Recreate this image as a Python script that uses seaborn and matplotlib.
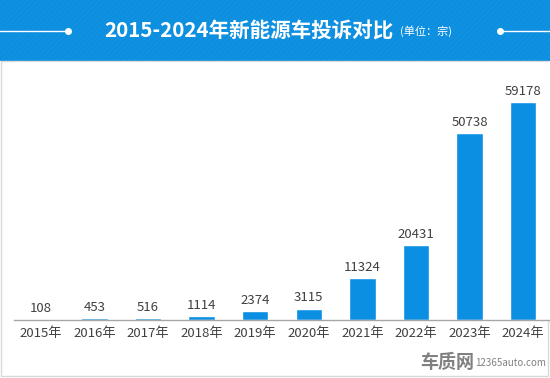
import matplotlib
matplotlib.use('Agg')
import matplotlib.pyplot as plt
import seaborn as sns
import pandas as pd
from matplotlib.patches import Rectangle
from matplotlib.lines import Line2D

# Data
years = ['2015年', '2016年', '2017年', '2018年', '2019年',
         '2020年', '2021年', '2022年', '2023年', '2024年']
complaints = [108, 453, 516, 1114, 2374, 3115, 11324, 20431, 50738, 59178]

title = '2015-2024年新能源车投诉对比'
unit = '(单位：宗)'

sns.set_style('white')
plt.rcParams['font.family'] = ['Noto Sans CJK SC', 'DejaVu Sans']
plt.rcParams['hatch.linewidth'] = 0.4

df = pd.DataFrame({'year': years, 'count': complaints})

W, H = 550, 378
fig = plt.figure(figsize=(W / 100, H / 100), dpi=100)

# Blue title band
band_h = 61 / H
fig.add_artist(Rectangle((0, 1 - band_h), 1, band_h, transform=fig.transFigure,
                         facecolor='#0d8fe0', edgecolor='#1a95e3', hatch='//////',
                         linewidth=0, zorder=0))

# Light frame around the plot area
fig.add_artist(Rectangle((1 / W, 2 / H), 547 / W, 1 - band_h - 2 / H,
                         transform=fig.transFigure, facecolor='none',
                         edgecolor='#d9d9d9', linewidth=1, zorder=0))

ty = 1 - 31 / H
fig.text(104 / W, ty, title, color='white', fontsize=14.8, fontweight='bold',
         ha='left', va='center')
fig.text(400 / W, ty, unit, color='white', fontsize=8, ha='left', va='center')

# Decorative lines either side of the title
for x0, x1, xd in [(0, 68 / W, 68 / W), (500 / W, 1, 500 / W)]:
    fig.add_artist(Line2D([x0, x1], [ty, ty], transform=fig.transFigure,
                          color='white', linewidth=1))
    fig.add_artist(Line2D([xd], [ty], transform=fig.transFigure, marker='o',
                          markersize=4, color='white', linewidth=0))

ax = fig.add_axes([14 / W, 58 / H, 536 / W, 258 / H])
sns.barplot(data=df, x='year', y='count', color='#0b8fe3', width=0.49,
            saturation=1, ax=ax)
ax.set_xlim(-0.5, 9.5)
ax.set_ylim(0, 70000)

for s in ['top', 'right', 'left']:
    ax.spines[s].set_visible(False)
ax.spines['bottom'].set_color('#a6a6a6')
ax.spines['bottom'].set_linewidth(1)
ax.set_yticks([])
ax.set_xlabel('')
ax.set_ylabel('')
ax.tick_params(axis='x', length=0, labelsize=9.5, labelcolor='#404040', pad=5)

ax.bar_label(ax.containers[0], labels=[str(v) for v in complaints],
             padding=3, fontsize=9.5, color='#404040')

# Watermark
fig.text(447 / W, 1 - 362 / H, '车质网', color='#808080', fontsize=13,
         fontweight='bold', ha='center', va='center')
fig.text(475 / W, 1 - 363 / H, '12365auto.com', color='#808080', fontsize=7,
         ha='left', va='center')

fig.savefig('out.png', dpi=100)
